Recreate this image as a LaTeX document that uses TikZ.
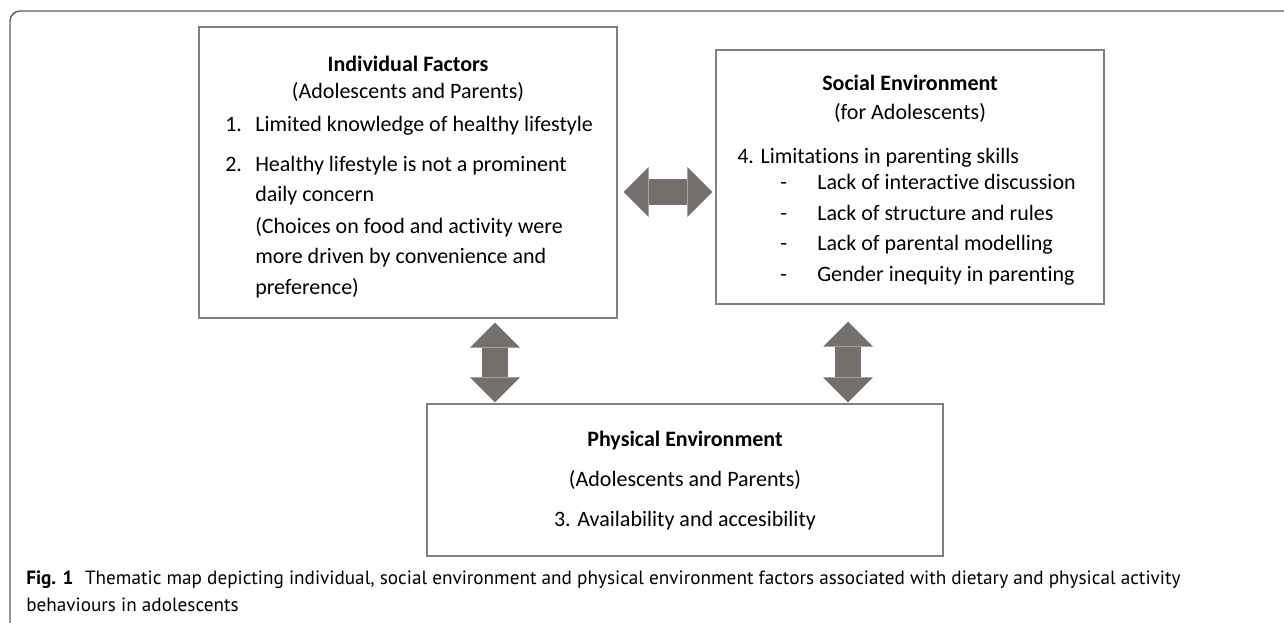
\documentclass[tikz,border=0pt]{standalone}
\usepackage{fontspec}
\setmainfont{Carlito}[Ligatures=NoCommon]
\newfontfamily\capfont{PT Sans}
\usepackage{tikz}
\usetikzlibrary{arrows.meta}
\usetikzlibrary{positioning}
\definecolor{boxgray}{RGB}{128,128,128}
\definecolor{arrowgray}{RGB}{116,111,109}
\definecolor{framegray}{RGB}{95,95,95}
\newcommand{\pxu}{0.75pt}

\begin{document}
\begin{tikzpicture}[x=0.75pt,y=-0.75pt,
    box/.style={rectangle,draw=boxgray,line width=1.1pt,inner sep=0pt},
    head/.style={font=\fontsize{16.5}{19}\selectfont\bfseries,inner sep=0pt,anchor=base},
    ctxt/.style={font=\fontsize{16.5}{19}\selectfont,inner sep=0pt,anchor=base},
    txt/.style={font=\fontsize{16.5}{19}\selectfont,inner sep=0pt,anchor=base west},
    captext/.style={font=\capfont\fontsize{14.4}{17}\selectfont,inner sep=0pt,anchor=base west},
    fat arrow/.style={color=arrowgray,line width=19.5pt,
      {Triangle[length=18.75pt,width=37.5pt,line width=0pt]}-{Triangle[length=18.75pt,width=37.5pt,line width=0pt]}}]
   \path[use as bounding box] (0,0) rectangle (1284,622);
   \clip (0,0) rectangle (1284,622);
   % outer frame, open to the right and below
   \draw[framegray,line width=1.1pt,rounded corners=10*\pxu] (10,650) -- (10,11) -- (1310,11);

   \begin{scope}
     \node[box,minimum width=418*\pxu,minimum height=291*\pxu] (ind) at (408,172.5) {};
     \node[box,minimum width=388*\pxu,minimum height=254*\pxu] (soc) at (910,177) {};
     \node[box,minimum width=516*\pxu,minimum height=152*\pxu] (phy) at (685,480) {};

     % individual factors
     \node[head] (indT) at (408,71) {Individual Factors};
     \node[ctxt] (indS) at (408,98) {(Adolescents and Parents)};
     \node[txt] (n1) at (225,131) {1.};
     \node[txt] (i1) at (255,131) {Limited knowledge of healthy lifestyle};
     \node[txt] (n2) at (225,171) {2.};
     \node[txt] (i2a) at (255,171) {Healthy lifestyle is not a prominent};
     \node[txt] (i2b) at (255,201) {daily concern};
     \node[txt] (i2c) at (255,233) {(Choices on food and activity were};
     \node[txt] (i2d) at (255,263) {more driven by convenience and};
     \node[txt] (i2e) at (255,294) {preference)};

     % social environment
     \node[head] (socT) at (910,90) {Social Environment};
     \node[ctxt] (socS) at (910,119) {(for Adolescents)};
     \node[txt] (s4) at (737,163) {4. Limitations in parenting skills};
     \node[txt] (d1) at (780,189) {-};
     \node[txt] (s4a) at (817,189) {Lack of interactive discussion};
     \node[txt] (d2) at (780,220) {-};
     \node[txt] (s4b) at (817,220) {Lack of structure and rules};
     \node[txt] (d3) at (780,250) {-};
     \node[txt] (s4c) at (817,250) {Lack of parental modelling};
     \node[txt] (d4) at (780,281) {-};
     \node[txt] (s4d) at (817,281) {Gender inequity in parenting};

     % physical environment
     \node[head] (phyT) at (685,446) {Physical Environment};
     \node[ctxt] (phyS) at (685,486) {(Adolescents and Parents)};
     \node[ctxt] (phy3) at (685,526) {3. Availability and accesibility};

     \coordinate (hrow) at (668,192);
     \coordinate (lcol) at (495,360);
     \coordinate (rcol) at (848,360);
     \path[fat arrow,shorten <=6*\pxu,shorten >=3*\pxu] (ind.east |- hrow) edge (soc.west |- hrow);
     \path[fat arrow,shorten <=4*\pxu,shorten >=1*\pxu] (ind.south -| lcol) edge (phy.north -| lcol);
     \path[fat arrow,shorten <=17*\pxu,shorten >=1*\pxu] (soc.south -| rcol) edge (phy.north -| rcol);
   \end{scope}

   \node[captext] (cap1) at (26,584) {\textbf{Fig. 1}\hspace{0.6em}Thematic map depicting individual, social environment and physical environment factors associated with dietary and physical activity};
   \node[captext] (cap2) at (26,611) {behaviours in adolescents};
\end{tikzpicture}
\end{document}
